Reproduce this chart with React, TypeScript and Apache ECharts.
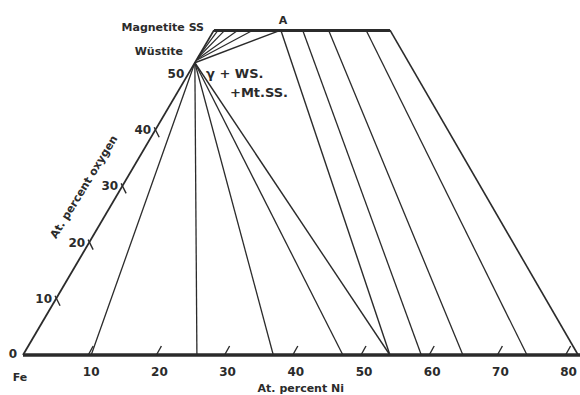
import React, { useEffect, useRef } from "react";
import * as echarts from "echarts";

// ---- data (At. percent Ni, At. percent O) ----
const niTicks = [10, 20, 30, 40, 50, 60, 70, 80];
const oxygenTicks = [10, 20, 30, 40];
const oxygenLabels = [10, 20, 30, 40, 50];
const magnetiteO = 57.8; // spinel (top) edge
const wustiteO = 52; // wüstite apex on the Fe–O edge
const topEdgeNi = [0, 25.8];
const baselineEndNi = 81.7;
const rightEdgeBottomNi = 81.4;
const pointANi = 9.8;
const gammaNi = 53.8;
const fanStartO = [53.0, 52.8, 52.6, 52.4];
const fanTopNi = [0.6, 1.6, 3.5, 5.7];
const wustiteTieBottomNi = [10, 25.5, 36.7, 46.9];
const spinelTieTopNi = [13.0, 16.8, 22.3];
const spinelTieBottomNi = [58.4, 64.5, 73.9];

const SKEW = 0.4846;
const toXY = (ni: number, o: number) => [ni + SKEW * o, o];

const INK = "#2b2b2b";
const FONT = '"DejaVu Sans", sans-serif';

function seg(a: number[], b: number[], width = 1.3) {
  return {
    coords: [toXY(a[0], a[1]), toXY(b[0], b[1])],
    lineStyle: { width, color: INK, opacity: 1 },
  };
}

export default function App() {
  const ref = useRef<HTMLDivElement>(null);
  useEffect(() => {
    if (!ref.current) return;
    document.body.style.margin = "0";
    const chart = echarts.init(ref.current, undefined, { renderer: "svg" });

    const segments: any[] = [];
    segments.push(seg([0, 0], [baselineEndNi, 0], 3.5));
    segments.push(seg([0, 0], [0, magnetiteO], 1.8));
    segments.push(seg([topEdgeNi[0], magnetiteO], [topEdgeNi[1], magnetiteO], 3));
    segments.push(seg([topEdgeNi[1], magnetiteO], [rightEdgeBottomNi, 0], 1.6));
    fanStartO.forEach((o, i) => segments.push(seg([0, o], [fanTopNi[i], magnetiteO], 1.2)));
    segments.push(seg([0, wustiteO], [pointANi, magnetiteO], 1.4));
    segments.push(seg([pointANi, magnetiteO], [gammaNi, 0], 1.4));
    segments.push(seg([0, wustiteO], [gammaNi, 0], 1.4));
    wustiteTieBottomNi.forEach((n) => segments.push(seg([0, wustiteO], [n, 0], 1.3)));
    spinelTieTopNi.forEach((n, i) =>
      segments.push(seg([n, magnetiteO], [spinelTieBottomNi[i], 0], 1.3))
    );

    const option: any = {
      animation: false,
      backgroundColor: "#ffffff",
      grid: {
        left: 23,
        right: 11.4,
        top: 17.8,
        bottom: 40,
        containLabel: false,
        outerBoundsMode: "none",
      },
      xAxis: {
        type: "value",
        min: 0,
        max: 80,
        interval: 10,
        axisLine: { show: false },
        axisTick: { show: false },
        splitLine: { show: false },
        axisLabel: {
          margin: 11,
          color: INK,
          fontFamily: FONT,
          fontWeight: "bold",
          fontSize: 12,
          formatter: (v: number) => (v === 0 ? "" : String(v)),
        },
        name: "At. percent Ni",
        nameLocation: "middle",
        nameGap: 27,
        nameTextStyle: { color: INK, fontFamily: FONT, fontWeight: "bold", fontSize: 11, padding: [0, 0, 0, 10] },
      },
      yAxis: { type: "value", min: 0, max: 60, show: false },
      series: [
        {
          type: "lines",
          coordinateSystem: "cartesian2d",
          polyline: false,
          silent: true,
          clip: false,
          lineStyle: { opacity: 1 },
          data: segments,
        },
        {
          type: "custom",
          coordinateSystem: "cartesian2d",
          silent: true,
          clip: false,
          data: niTicks.map((n) => toXY(n, 0)),
          renderItem: (_p: any, api: any) => {
            const p = api.coord([api.value(0), api.value(1)]);
            return {
              type: "line",
              shape: { x1: p[0] - 3, y1: p[1], x2: p[0] + 2, y2: p[1] - 9 },
              style: { stroke: INK, lineWidth: 1.4 },
            };
          },
        },
        {
          type: "custom",
          coordinateSystem: "cartesian2d",
          silent: true,
          clip: false,
          data: oxygenTicks.map((o) => toXY(0, o)),
          renderItem: (_p: any, api: any) => {
            const p = api.coord([api.value(0), api.value(1)]);
            return {
              type: "line",
              shape: { x1: p[0] - 1, y1: p[1] - 3, x2: p[0] + 4, y2: p[1] + 7 },
              style: { stroke: INK, lineWidth: 1.4 },
            };
          },
        },
        {
          type: "custom",
          coordinateSystem: "cartesian2d",
          silent: true,
          clip: false,
          data: oxygenLabels.map((o) => [...toXY(0, o), o]),
          renderItem: (_p: any, api: any) => {
            const p = api.coord([api.value(0), api.value(1)]);
            return {
              type: "text",
              x: p[0] - 4,
              y: p[1],
              style: {
                text: String(api.value(2)),
                fill: INK,
                font: `bold 12px ${FONT}`,
                align: "right",
                verticalAlign: "middle",
              },
            };
          },
        },
      ],
      graphic: [
        { type: "text", x: 13, y: 354, style: { text: "0", fill: INK, font: `bold 12px ${FONT}`, align: "center", verticalAlign: "middle" } },
        { type: "text", x: 20, y: 377, style: { text: "Fe", fill: INK, font: `bold 11px ${FONT}`, align: "center", verticalAlign: "middle" } },
        { type: "text", x: 204, y: 27, style: { text: "Magnetite SS", fill: INK, font: `bold 11px ${FONT}`, align: "right", verticalAlign: "middle" } },
        { type: "text", x: 183, y: 51, style: { text: "Wüstite", fill: INK, font: `bold 11px ${FONT}`, align: "right", verticalAlign: "middle" } },
        { type: "text", x: 283, y: 20, style: { text: "A", fill: INK, font: `bold 11px ${FONT}`, align: "center", verticalAlign: "middle" } },
        { type: "text", x: 206, y: 73, style: { text: "γ + WS.", fill: INK, font: `bold 13px ${FONT}`, align: "left", verticalAlign: "middle" } },
        { type: "text", x: 230, y: 92, style: { text: "+Mt.SS.", fill: INK, font: `bold 13px ${FONT}`, align: "left", verticalAlign: "middle" } },
        {
          type: "text",
          x: 84,
          y: 187,
          rotation: (58.5 * Math.PI) / 180,
          style: { text: "At. percent oxygen", fill: INK, font: `bold 11px ${FONT}`, align: "center", verticalAlign: "middle" },
        },
      ],
    };
    chart.setOption(option);
    return () => chart.dispose();
  }, []);
  return <div ref={ref} style={{ width: 580, height: 395 }} />;
}
